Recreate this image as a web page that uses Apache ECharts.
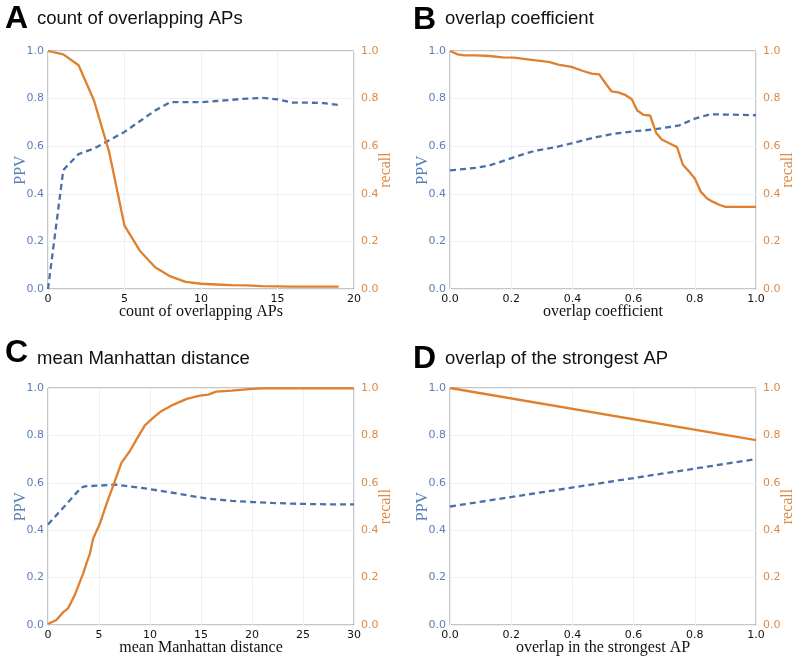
<!DOCTYPE html>
<html>
<head>
<meta charset="utf-8">
<script src="https://cdn.jsdelivr.net/npm/echarts@6/dist/echarts.min.js"></script>
<style>
html,body{margin:0;padding:0;background:#fff;}
#chart{width:795px;height:660px;}
</style>
</head>
<body>
<div id="chart"></div>
<script>
// Panel A: count of overlapping APs
var aX = [0,1,2,3,4,5,6,7,8,9,10,11,12,13,14,15,16,17,18,19];
var aPPV = [0,0.50,0.567,0.59,0.625,0.66,0.705,0.75,0.785,0.785,0.785,0.79,0.795,0.80,0.803,0.797,0.783,0.783,0.781,0.773];
var aRecall = [1.0,0.986,0.94,0.793,0.575,0.266,0.161,0.091,0.053,0.03,0.022,0.019,0.016,0.015,0.012,0.011,0.010,0.010,0.010,0.010];

// Panel B: overlap coefficient
var bRecallX = [0,0.025,0.047,0.085,0.128,0.172,0.21,0.26,0.315,0.326,0.354,0.397,0.435,0.463,0.488,0.501,0.528,0.55,0.572,0.594,0.612,0.632,0.654,0.674,0.692,0.72,0.742,0.761,0.783,0.80,0.82,0.84,0.86,0.88,0.90,1.0];
var bRecall = [1.0,0.986,0.982,0.982,0.979,0.973,0.972,0.964,0.955,0.953,0.943,0.933,0.916,0.905,0.902,0.877,0.83,0.826,0.816,0.797,0.75,0.732,0.729,0.655,0.628,0.61,0.596,0.522,0.491,0.464,0.408,0.38,0.366,0.354,0.345,0.345];
var bPPVX = [0,0.085,0.128,0.172,0.216,0.281,0.347,0.412,0.478,0.532,0.598,0.663,0.729,0.75,0.8,0.85,0.9,1.0];
var bPPV = [0.498,0.509,0.519,0.537,0.557,0.582,0.596,0.617,0.638,0.652,0.662,0.67,0.683,0.688,0.716,0.734,0.733,0.73];

// Panel C: mean Manhattan distance
var cRecallX = [0,0.82,1.47,1.96,2.62,3.44,3.93,4.1,4.42,5.08,5.73,6.39,7.21,8.03,8.68,9.5,10.3,11.1,12.3,13.6,14.9,15.7,16.5,18,20,21,25,30];
var cRecall = [0.004,0.021,0.053,0.07,0.126,0.217,0.28,0.30,0.364,0.427,0.51,0.588,0.685,0.734,0.783,0.842,0.874,0.902,0.93,0.954,0.968,0.972,0.985,0.989,0.996,0.998,0.998,0.998];
var cPPVX = [0,3.27,3.6,6.7,9.9,12.9,15.5,18,20,22,24,26,28,30];
var cPPV = [0.424,0.58,0.585,0.592,0.574,0.553,0.534,0.524,0.519,0.515,0.512,0.51,0.509,0.509];

// Panel D: overlap of the strongest AP
var dX = [0,1.0];
var dPPV = [0.50,0.70];
var dRecall = [1.0,0.78];

var panelLetters = ['A','B','C','D'];
var panelTitles = ['count of overlapping APs','overlap coefficient','mean Manhattan distance','overlap of the strongest AP'];
var xNames = ['count of overlapping APs','overlap coefficient','mean Manhattan distance','overlap in the strongest AP'];
var xMax = [20,1,30,1];
var xInterval = [5,0.2,5,0.2];

var BLUE = '#4a70a8', ORANGE = '#e0802f';
var BLUE_T = '#5a7fb8', ORANGE_T = '#dc8a45';

var grids = [
  {left:48, top:51, width:306, height:238},
  {left:450, top:51, width:306, height:238},
  {left:48, top:388, width:306, height:237},
  {left:450, top:388, width:306, height:237}
];
grids.forEach(function(g){ g.show = true; g.borderColor = '#8c8c8c'; g.borderWidth = 1; g.backgroundColor = 'transparent'; g.containLabel = false; g.outerBoundsMode = 'none'; });

var xAxes = [], yAxes = [];
for (var i = 0; i < 4; i++) {
  var dec = xInterval[i] < 1;
  xAxes.push({
    type:'value', gridIndex:i, min:0, max:xMax[i], interval:xInterval[i],
    axisLine:{show:false}, axisTick:{show:false},
    axisLabel:{color:'#111', fontSize:11, fontFamily:'DejaVu Sans', margin:5,
      formatter:(function(d){return function(v){return d ? v.toFixed(1) : String(v);};})(dec)},
    splitLine:{show:true, lineStyle:{color:'#eef0f2', width:1}},
    name:xNames[i], nameLocation:'middle', nameGap:15, nameMoveOverlap:false,
    nameTextStyle:{color:'#111', fontSize:16, fontFamily:'Liberation Serif', verticalAlign:'top'}
  });
  yAxes.push({
    type:'value', gridIndex:i, position:'left', min:0, max:1, interval:0.2,
    axisLine:{show:false}, axisTick:{show:false},
    axisLabel:{color:BLUE_T, fontSize:11, fontFamily:'DejaVu Sans', margin:4, formatter:function(v){return v.toFixed(1);}},
    splitLine:{show:true, lineStyle:{color:'#eef0f2', width:1}},
    name:'PPV', nameLocation:'middle', nameGap:19, nameRotate:90, nameMoveOverlap:false,
    nameTextStyle:{color:BLUE_T, fontSize:16, fontFamily:'Liberation Serif'}
  });
  yAxes.push({
    type:'value', gridIndex:i, position:'right', min:0, max:1, interval:0.2,
    axisLine:{show:false}, axisTick:{show:false},
    axisLabel:{color:ORANGE_T, fontSize:11, fontFamily:'DejaVu Sans', margin:7, formatter:function(v){return v.toFixed(1);}},
    splitLine:{show:false},
    name:'recall', nameLocation:'middle', nameGap:24, nameRotate:90, nameMoveOverlap:false,
    nameTextStyle:{color:ORANGE_T, fontSize:16, fontFamily:'Liberation Serif'}
  });
}

function pairs(xs, ys){ return xs.map(function(x,k){ return [x, ys[k]]; }); }

var ppvData = [pairs(aX,aPPV), pairs(bPPVX,bPPV), pairs(cPPVX,cPPV), pairs(dX,dPPV)];
var recData = [pairs(aX,aRecall), pairs(bRecallX,bRecall), pairs(cRecallX,cRecall), pairs(dX,dRecall)];

var series = [];
for (var j = 0; j < 4; j++) {
  series.push({
    type:'line', xAxisIndex:j, yAxisIndex:2*j, data:ppvData[j], symbol:'none', silent:true,
    lineStyle:{color:BLUE, width:2.3, type:[6,4]}, z:3
  });
  series.push({
    type:'line', xAxisIndex:j, yAxisIndex:2*j+1, data:recData[j], symbol:'none', silent:true,
    lineStyle:{color:ORANGE, width:2.3}, z:4
  });
}

var letterPos = [[5,3],[413,4],[5,337],[413,343]];
var titlePos = [[37,9],[445,9],[37,349],[445,349]];
var graphics = [];
for (var k = 0; k < 4; k++) {
  graphics.push({type:'text', left:letterPos[k][0], top:letterPos[k][1], style:{text:panelLetters[k], font:'bold 32px "Liberation Sans"', fill:'#000'}});
  graphics.push({type:'text', left:titlePos[k][0], top:titlePos[k][1], style:{text:panelTitles[k], font:'18.5px "Liberation Sans"', fill:'#111'}});
}

var chart = echarts.init(document.getElementById('chart'), null, {renderer:'canvas'});
chart.setOption({
  animation:false,
  backgroundColor:'#fff',
  grid:grids,
  xAxis:xAxes,
  yAxis:yAxes,
  series:series,
  graphic:graphics
});
</script>
</body>
</html>
